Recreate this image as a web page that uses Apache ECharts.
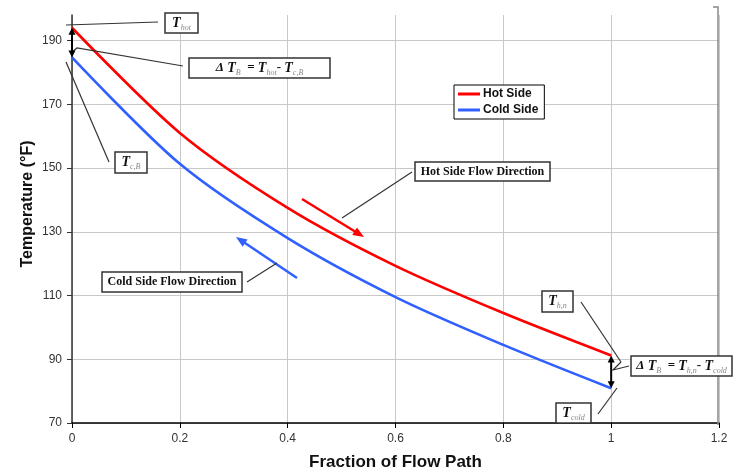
<!DOCTYPE html>
<html><head><meta charset="utf-8">
<script src="https://cdn.jsdelivr.net/npm/echarts@6/dist/echarts.min.js"></script>
<style>html,body{margin:0;padding:0;background:#fff}#c{width:734px;height:476px}</style>
</head><body><div id="c"></div>
<script>
// ---- data ----
const fractionOfPath = [0, 0.2, 0.4, 0.6, 0.8, 1];
const hotSide = [194, 161, 137.5, 119.3, 104.5, 91.2];
const coldSide = [184.7, 151.3, 128, 109.5, 94.5, 80.9];
const xTickLabels = ['0', '0.2', '0.4', '0.6', '0.8', '1', '1.2'];
const yTickLabels = ['70', '90', '110', '130', '150', '170', '190'];
const seriesNames = ['Hot Side', 'Cold Side'];

const chart = echarts.init(document.getElementById('c'), null, {renderer: 'canvas'});
const SANS = '"Liberation Sans", Arial, sans-serif';
const SERIF = '"Liberation Serif", "Times New Roman", serif';

const option = {
  backgroundColor: '#fff',
  animation: false,
  grid: {left: 72, right: 15, top: 15, bottom: 51, containLabel: false},
  legend: {
    data: seriesNames, orient: 'vertical', left: 454, top: 85,
    backgroundColor: '#fff', borderColor: '#000', borderWidth: 1,
    padding: [3, 6, 3, 4], itemGap: 4, itemWidth: 22, itemHeight: 3, icon: 'rect',
    textStyle: {fontFamily: SANS, fontSize: 12, fontWeight: 'bold', color: '#111', padding: [0, 0, 0, -2]}
  },
  xAxis: {
    type: 'value', min: 0, max: 1.2, interval: 0.2,
    axisLine: {show: true, onZero: false, lineStyle: {color: '#000', width: 1.5}},
    axisTick: {show: true, length: 5, lineStyle: {color: '#000'}},
    axisLabel: {fontFamily: SANS, fontSize: 12, color: '#333', margin: 10,
      formatter: (v) => xTickLabels[Math.round(v / 0.2)] ?? ''},
    splitLine: {show: true, lineStyle: {color: '#c8c8c8', width: 1}},
    name: 'Fraction of Flow Path', nameLocation: 'middle', nameGap: 31,
    nameTextStyle: {fontFamily: SANS, fontSize: 17, fontWeight: 'bold', color: '#111'}
  },
  yAxis: {
    type: 'value', min: 70, max: 198, interval: 20,
    axisLine: {show: true, onZero: false, lineStyle: {color: '#333', width: 1.5}},
    axisTick: {show: true, length: 5, lineStyle: {color: '#333'}},
    axisLabel: {fontFamily: SANS, fontSize: 12, color: '#333', margin: 10, showMaxLabel: false,
      formatter: (v) => { const i = Math.round((v - 70) / 20); return (Math.abs(v - (70 + i * 20)) < 1e-6) ? (yTickLabels[i] ?? '') : ''; }},
    splitLine: {show: true, showMaxLine: false, lineStyle: {color: '#c8c8c8', width: 1}}
  },
  series: [
    {name: seriesNames[0], type: 'line', smooth: 0.3, symbol: 'none', color: '#ff0000',
      lineStyle: {width: 2.6, color: '#ff0000'},
      data: fractionOfPath.map((x, i) => [x, hotSide[i]])},
    {name: seriesNames[1], type: 'line', smooth: 0.3, symbol: 'none', color: '#3060ff',
      lineStyle: {width: 2.6, color: '#3060ff'},
      data: fractionOfPath.map((x, i) => [x, coldSide[i]])}
  ]
};
chart.setOption(option);

// ---- annotations ----
const P = (x, y) => chart.convertToPixel({gridIndex: 0}, [x, y]);
const g = [];
function line(points, color, w) {
  g.push({type: 'polyline', shape: {points}, style: {stroke: color, lineWidth: w, fill: null}, z: 50});
}
function head(tip, from, len, wid, color) {
  const dx = tip[0] - from[0], dy = tip[1] - from[1];
  const d = Math.hypot(dx, dy), ux = dx / d, uy = dy / d;
  const bx = tip[0] - ux * len, by = tip[1] - uy * len;
  g.push({type: 'polygon', shape: {points: [tip, [bx - uy * wid / 2, by + ux * wid / 2], [bx + uy * wid / 2, by - ux * wid / 2]]},
    style: {fill: color}, z: 51});
}
function arrow(a, b, color, w, len, wid, both) {
  const dx = b[0] - a[0], dy = b[1] - a[1], d = Math.hypot(dx, dy);
  const ux = dx / d, uy = dy / d;
  const a2 = both ? [a[0] + ux * len * 0.7, a[1] + uy * len * 0.7] : a;
  const b2 = [b[0] - ux * len * 0.7, b[1] - uy * len * 0.7];
  line([a2, b2], color, w);
  head(b, a, len, wid, color);
  if (both) head(a, b, len, wid, color);
}
const rich = {
  t: {font: 'bold italic 14px ' + SERIF, fill: '#111', lineHeight: 16},
  d: {font: 'bold italic 13px ' + SERIF, fill: '#111', lineHeight: 16},
  e: {font: 'bold 13px ' + SERIF, fill: '#111', lineHeight: 16},
  s: {font: 'italic 8px ' + SERIF, fill: '#888', lineHeight: 10, padding: [9, 0, 0, 0]}
};
function box(x, y, w, h, text, opts) {
  g.push({type: 'rect', shape: {x, y, width: w, height: h},
    style: {fill: '#fff', stroke: '#333', lineWidth: 1.5}, z: 60});
  g.push({type: 'text', x: x + w / 2, y: y + h / 2 + ((opts && opts.dy) || 0), z: 61,
    style: Object.assign({text, rich, align: 'center', verticalAlign: 'middle'}, opts && opts.style)});
}

// plot area right frame
line([[713, 7], [718, 7], [718, 425]], '#888', 1.5);

// double arrows showing temperature differences at both ends
const h0 = P(fractionOfPath[0], hotSide[0]), c0 = P(fractionOfPath[0], coldSide[0]);
arrow(h0, c0, '#000', 2, 7, 7, true);
const n = fractionOfPath.length - 1;
const h1 = P(fractionOfPath[n], hotSide[n]), c1 = P(fractionOfPath[n], coldSide[n]);
arrow(h1, c1, '#000', 2, 7, 7, true);

// flow direction arrows
arrow([302, 199], [364, 237], '#ff0000', 2.5, 11, 9, false);
arrow([297, 278], [236, 237], '#3060ff', 2.5, 11, 9, false);

// leader lines
line([[66, 25], [158, 22]], '#333', 1.2);
line([[72, 52], [77, 48], [183, 66]], '#333', 1.2);
line([[66, 62], [109, 162]], '#333', 1.2);
line([[412, 172], [342, 218]], '#333', 1.2);
line([[247, 282], [277, 263]], '#333', 1.2);
line([[581, 302], [621, 362]], '#333', 1.2);
line([[621, 362], [613, 370], [629, 366]], '#333', 1.2);
line([[598, 414], [617, 388]], '#333', 1.2);

// labelled boxes
box(165, 13, 33, 20, '{t|T}{s|hot}');
box(189, 58, 141, 20, '{d|\u0394} {t|T}{s|B} {e| = }{t|T}{s|hot}{e|-} {t|T}{s|c,B}');
box(115, 152, 32, 21, '{t|T}{s|c,B}');
box(415, 162, 135, 19, 'Hot Side Flow Direction', {style: {font: 'bold 12px ' + SERIF, fill: '#111'}});
box(102, 272, 140, 20, 'Cold Side Flow Direction', {style: {font: 'bold 12px ' + SERIF, fill: '#111'}});
box(542, 291, 31, 21, '{t|T}{s|h,n}');
box(631, 356, 101, 20, '{d|\u0394} {t|T}{s|B} {e| = }{t|T}{s|h,n}{e|-} {t|T}{s|cold}');
box(556, 403, 35, 20, '{t|T}{s|cold}');

// y axis title
g.push({type: 'text', x: 28, y: 204, rotation: Math.PI / 2, z: 40,
  style: {text: 'Temperature (\u00B0F)', font: 'bold 16px ' + SANS, fill: '#111', align: 'center', verticalAlign: 'middle'}});

chart.setOption({graphic: g});
</script></body></html>
